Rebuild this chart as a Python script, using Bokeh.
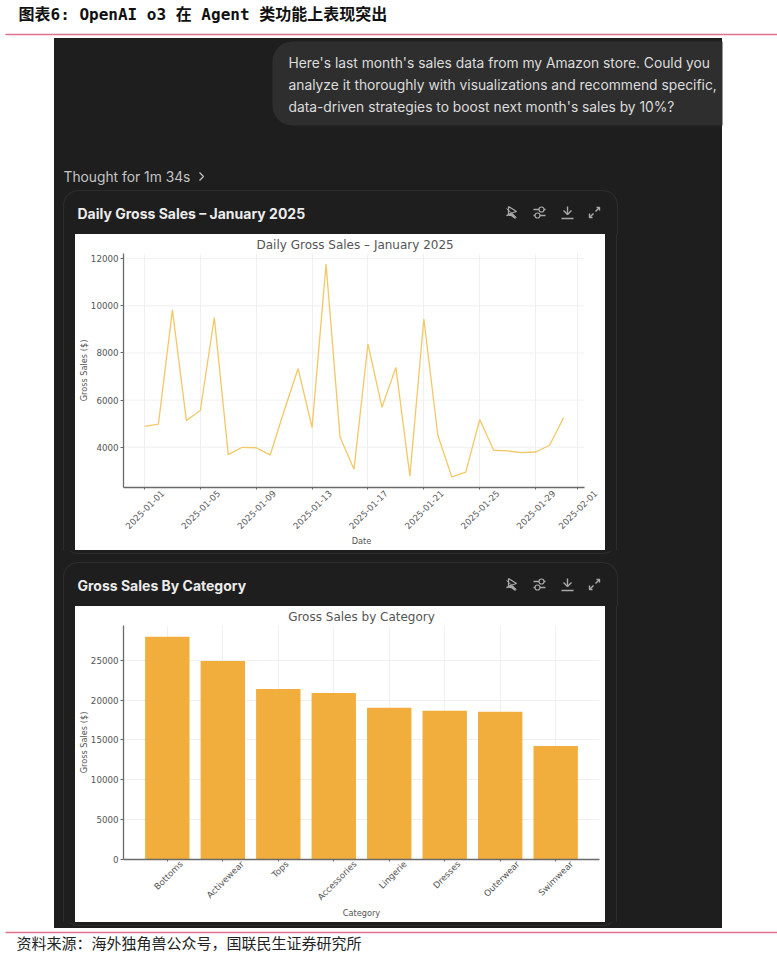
from datetime import date, timedelta
import math
import numpy as np
from bokeh.core.properties import value
from bokeh.embed import file_html
from bokeh.layouts import column, row
from bokeh.models import ColumnDataSource, Div, FixedTicker, LinearAxis, Range1d
from bokeh.plotting import figure
from bokeh.resources import INLINE

# ---- data ----
daily_sales = [4890, 4985, 9830, 5140, 5560, 9500, 3690, 4000, 3980, 3675, 5550,
               7340, 4840, 11770, 4440, 3070, 8380, 5700, 7390, 2775, 9440, 4510,
               2745, 2945, 5180, 3875, 3845, 3775, 3800, 4085, 5250]
date_tick_labels = ["2025-01-01", "2025-01-05", "2025-01-09", "2025-01-13", "2025-01-17",
                    "2025-01-21", "2025-01-25", "2025-01-29", "2025-02-01"]
daily_y_ticks = [4000, 6000, 8000, 10000, 12000]
categories = ["Bottoms", "Activewear", "Tops", "Accessories", "Lingerie", "Dresses", "Outerwear", "Swimwear"]
category_sales = [27950, 24910, 21370, 20880, 19040, 18660, 18540, 14250]
category_y_ticks = [0, 5000, 10000, 15000, 20000, 25000]

header_text = "图表6: OpenAI o3 在 Agent 类功能上表现突出"
footer_text = "资料来源\uff1a海外独角兽公众号\uff0c国联民生证券研究所"
prompt_lines = ["Here's last month's sales data from my Amazon store. Could you",
                "analyze it thoroughly with visualizations and recommend specific,",
                "data-driven strategies to boost next month's sales by 10%?"]

# ---- style ----
DARK = "#1e1e1e"
CARD = "#2c2c2c"
BUBBLE = "#2e2e2e"
RULE = "#e0708c"
INK = "#555555"
SPINE = "#6a6a6a"
GRID = "#eeeeee"
LINE = "#f4c765"
BAR = "#f1ae3c"
UI_FONT = "Inter"
PLOT_FONT = "DejaVu Sans"
DAY_MS = 86400000
PANEL_BG = f"linear-gradient(to right, white 54px, {DARK} 54px, {DARK} 722px, white 722px)"


def ms(d):
    return (d - date(1970, 1, 1)).days * DAY_MS


def rounded(x0, y0, x1, y1, r):
    xs, ys = [], []
    for cx, cy, a0 in ((x1 - r, y0 + r, -90), (x1 - r, y1 - r, 0), (x0 + r, y1 - r, 90), (x0 + r, y0 + r, 180)):
        for a in np.linspace(a0, a0 + 90, 9):
            xs.append(cx + r * math.cos(math.radians(a)))
            ys.append(cy + r * math.sin(math.radians(a)))
    return xs + xs[:1], ys + ys[:1]


def canvas(x0, x1, y0, y1, panel_rows=None):
    """A figure in page pixels; the dark panel behind it is the host element's own background."""
    p = figure(width=x1 - x0, height=y1 - y0, x_range=Range1d(x0, x1), y_range=Range1d(y1, y0),
               x_axis_type=None, y_axis_type=None, toolbar_location=None, output_backend="svg",
               min_border=0, outline_line_color=None, background_fill_color=None, border_fill_color=None)
    p.grid.visible = False
    panel_h = panel_rows if panel_rows is not None else y1 - y0
    p.styles = {"background": f"{PANEL_BG} no-repeat", "background-size": f"100% {panel_h}px"}
    for c in ((63, 190, 617, 553), (63, 562, 617, 925)):
        xs, ys = rounded(c[0], c[1], c[2], c[3], 15)
        p.line(xs, ys, line_color=CARD, line_width=1.2)
    return p


def strip(width, height, stops):
    return Div(width=width, height=height, margin=0, text="",
               styles={"background": f"linear-gradient(to right, {stops})"})


def label(p, x, y, text, size, color, font=UI_FONT, style="normal", align="left"):
    p.text([x], [y], text=[text], text_font=value(font), text_font_size=value(f"{size}px"), text_color=color,
           text_font_style=style, text_baseline="middle", text_align=align)


def icons(p, cy):
    c = "#a8a8a8"
    # sparkle with a slash
    cx = 511
    p.line([cx - 3, cx + 5, cx - 1, cx - 5, cx + 1, cx + 4, cx - 3, cx - 3],
           [cy - 6, cy - 1, cy + 1, cy + 3, cy + 2, cy + 6, cy + 1, cy - 6], line_color=c, line_width=1.3)
    p.line([cx - 5, cx + 5], [cy - 4, cy + 5], line_color=c, line_width=1)
    # sliders
    cx = 539
    p.multi_line([[cx - 6, cx + 6], [cx - 6, cx + 6]], [[cy - 3, cy - 3], [cy + 3, cy + 3]], line_color=c, line_width=1.3)
    p.scatter([cx + 2, cx - 2], [cy - 3, cy + 3], size=5, fill_color=DARK, line_color=c, line_width=1.2)
    # download
    cx = 567
    p.multi_line([[cx, cx], [cx - 4, cx, cx + 4], [cx - 6, cx + 6]],
                 [[cy - 6, cy + 2], [cy - 2, cy + 2, cy - 2], [cy + 6, cy + 6]], line_color=c, line_width=1.4)
    # expand
    cx = 594
    p.multi_line([[cx - 5, cx - 1], [cx + 1, cx + 5], [cx - 5, cx - 5, cx - 2], [cx + 2, cx + 5, cx + 5]],
                 [[cy + 5, cy + 1], [cy - 1, cy - 5], [cy + 1, cy + 5, cy + 5], [cy - 5, cy - 5, cy - 2]],
                 line_color=c, line_width=1.4)


def style_chart(p, title_size=12):
    p.title.align = "center"
    p.title.text_font = PLOT_FONT
    p.title.text_font_size = f"{title_size}px"
    p.title.text_font_style = "normal"
    p.title.text_color = INK
    p.title.standoff = 3
    p.outline_line_color = None
    p.min_border = 0


def style_axes(p, x_ticks, y_ticks, label_axis, x_title, y_title, label_standoff, title_standoff):
    main_x = p.xaxis[0]
    main_x.ticker = FixedTicker(ticks=x_ticks)
    main_x.major_label_overrides = {t: "" for t in x_ticks}
    main_x.major_label_standoff = 0
    main_x.axis_line_color = SPINE
    main_x.axis_line_width = 1.3
    main_x.major_tick_line_color = SPINE
    main_x.major_tick_in = 0
    main_x.major_tick_out = 2
    main_x.minor_tick_line_color = None
    y = p.yaxis[0]
    y.ticker = FixedTicker(ticks=y_ticks)
    y.axis_line_color = SPINE
    y.axis_line_width = 1.3
    y.major_tick_line_color = SPINE
    y.major_tick_in = 0
    y.major_tick_out = 3
    y.minor_tick_line_color = None
    y.major_label_text_font = PLOT_FONT
    y.major_label_text_font_size = "8.7px"
    y.major_label_text_color = INK
    y.major_label_standoff = 2
    y.axis_label = y_title
    y.axis_label_text_font = PLOT_FONT
    y.axis_label_text_font_size = "8.2px"
    y.axis_label_text_font_style = "normal"
    y.axis_label_text_color = INK
    y.axis_label_standoff = -1
    a = label_axis
    a.axis_line_color = None
    a.major_tick_line_color = None
    a.minor_tick_line_color = None
    a.major_tick_in = 0
    a.major_tick_out = 0
    a.major_label_orientation = math.pi / 4
    a.major_label_text_font = PLOT_FONT
    a.major_label_text_font_size = "8.7px"
    a.major_label_text_color = INK
    a.major_label_standoff = label_standoff
    a.axis_label = x_title
    a.axis_label_text_font = PLOT_FONT
    a.axis_label_text_font_size = "8.2px"
    a.axis_label_text_font_style = "normal"
    a.axis_label_text_color = INK
    a.axis_label_standoff = title_standoff
    p.xgrid.ticker = FixedTicker(ticks=x_ticks)
    p.ygrid.ticker = FixedTicker(ticks=y_ticks)
    for g in (p.xgrid[0], p.ygrid[0]):
        g.grid_line_color = GRID
        g.grid_line_width = 0.9


# ---- header ----
head = canvas(0, 777, 0, 234)
head.styles = {"background": f"{PANEL_BG} no-repeat", "background-size": "100% 196px", "background-position": "0 38px"}
label(head, 18, 13.5, header_text, 16, "#111111", font="DejaVu Sans Mono, Noto Sans CJK SC", style="bold")
head.line([5, 777], [34, 34], line_color=RULE, line_width=1.6)
xs, ys = rounded(272, 41, 760, 125, 20)
head.patch([min(v, 722) for v in xs], ys, fill_color=BUBBLE, line_color=None)
for text, y in zip(prompt_lines, (62.5, 84.5, 106)):
    label(head, 288, y, text, 13.8, "#dcdcdc")
label(head, 63, 176, "Thought for 1m 34s", 13.8, "#c4c4c4")
head.line([199, 203, 199], [172, 176, 180], line_color="#c4c4c4", line_width=1.2)
label(head, 77, 213, "Daily Gross Sales – January 2025", 14, "#ececec", style="bold")
icons(head, 212)

# ---- chart 1 ----
FRAME_W, FRAME_H = 476, 234
day_dates = [date(2025, 1, 1) + timedelta(days=i) for i in range(len(daily_sales))]
date_ticks = [ms(date.fromisoformat(s)) for s in date_tick_labels]
x0_ms, x1_ms = ms(day_dates[0]) - 1.5 * DAY_MS, ms(day_dates[-1]) + 1.5 * DAY_MS
px_per_ms = 461 / (x1_ms - x0_ms)          # plotted span of the axis
x_end_ms = x0_ms + FRAME_W / px_per_ms     # frame runs on so that the last rotated label fits
spread = (max(daily_sales) - min(daily_sales)) * 0.05
c1 = figure(width=530, height=316, x_axis_type="datetime", toolbar_location=None, output_backend="svg",
            title="Daily Gross Sales – January 2025", title_location="above",
            x_range=Range1d(x0_ms, x_end_ms), y_range=Range1d(min(daily_sales) - spread, max(daily_sales) + spread),
            background_fill_color="white", border_fill_color="white")
style_chart(c1)
c1.min_border_left, c1.min_border_right, c1.min_border_top, c1.min_border_bottom = 48, 6, 19, 63
c1.frame_width, c1.frame_height = FRAME_W, FRAME_H
shift = 18 / px_per_ms
c1.extra_x_ranges = {"labels": Range1d(x0_ms - shift, x_end_ms - shift)}
ax1 = LinearAxis(x_range_name="labels", ticker=FixedTicker(ticks=date_ticks),
                 major_label_overrides=dict(zip(date_ticks, date_tick_labels)))
c1.add_layout(ax1, "below")
style_axes(c1, date_ticks, daily_y_ticks, ax1, "Date", "Gross Sales ($)", 2, 1)
c1.title.align = "left"
c1.title.offset = 133
c1.xaxis[0].bounds = (x0_ms, x1_ms)
c1.ygrid.visible = False
c1.segment(x0=[x0_ms] * len(daily_y_ticks), x1=[x1_ms] * len(daily_y_ticks), y0=daily_y_ticks, y1=daily_y_ticks,
           line_color=GRID, line_width=0.9, level="underlay")
c1.line(x=[ms(d) for d in day_dates], y=daily_sales, line_color=LINE, line_width=1.3)

# ---- middle ----
mid = canvas(0, 777, 550, 606)
label(mid, 77, 585, "Gross Sales By Category", 14, "#ececec", style="bold")
icons(mid, 584)

# ---- chart 2 ----
positions = list(range(len(categories)))
c2 = figure(width=530, height=316, toolbar_location=None, output_backend="svg",
            title="Gross Sales by Category",
            x_range=Range1d(-0.79, len(categories) - 0.21), y_range=Range1d(0, max(category_sales) * 1.05),
            background_fill_color="white", border_fill_color="white")
style_chart(c2)
c2.min_border_left, c2.min_border_right, c2.min_border_top, c2.min_border_bottom = 48, 6, 19, 63
c2.frame_width, c2.frame_height = FRAME_W, FRAME_H
c2.extra_x_ranges = {"labels": Range1d(-0.79, len(categories) - 0.21)}
unit_px = FRAME_W / (len(categories) + 0.58)
label_ticks = [i + (1.8 * len(c) + 1.5) / unit_px for i, c in zip(positions, categories)]
ax2 = LinearAxis(x_range_name="labels", ticker=FixedTicker(ticks=label_ticks),
                 major_label_overrides=dict(zip(label_ticks, categories)))
c2.add_layout(ax2, "below")
style_axes(c2, positions, category_y_ticks, ax2, "Category", "Gross Sales ($)", 1, -1)
src = ColumnDataSource(dict(pos=positions, category=categories, sales=category_sales))
c2.vbar(x="pos", top="sales", width=0.8, source=src, fill_color=BAR, line_color=None)

# ---- footer ----
foot = canvas(0, 777, 922, 955, panel_rows=6)
foot.line([5, 777], [932, 932], line_color=RULE, line_width=1.6)
label(foot, 16, 941.5, footer_text, 15, "#222222", font="Noto Sans CJK SC")

left_stops = f"white 54px, {DARK} 54px, {DARK} 63px, {CARD} 63px, {CARD} 64px, {DARK} 64px"
right_stops = f"{DARK} 11.5px, {CARD} 11.5px, {CARD} 12.5px, {DARK} 12.5px, {DARK} 117px, white 117px"
page = column(
    head,
    row(strip(75, 316, left_stops), c1, strip(172, 316, right_stops)),
    mid,
    row(strip(75, 316, left_stops), c2, strip(172, 316, right_stops)),
    foot,
)
open("out.html", "w").write(file_html(page, INLINE))
